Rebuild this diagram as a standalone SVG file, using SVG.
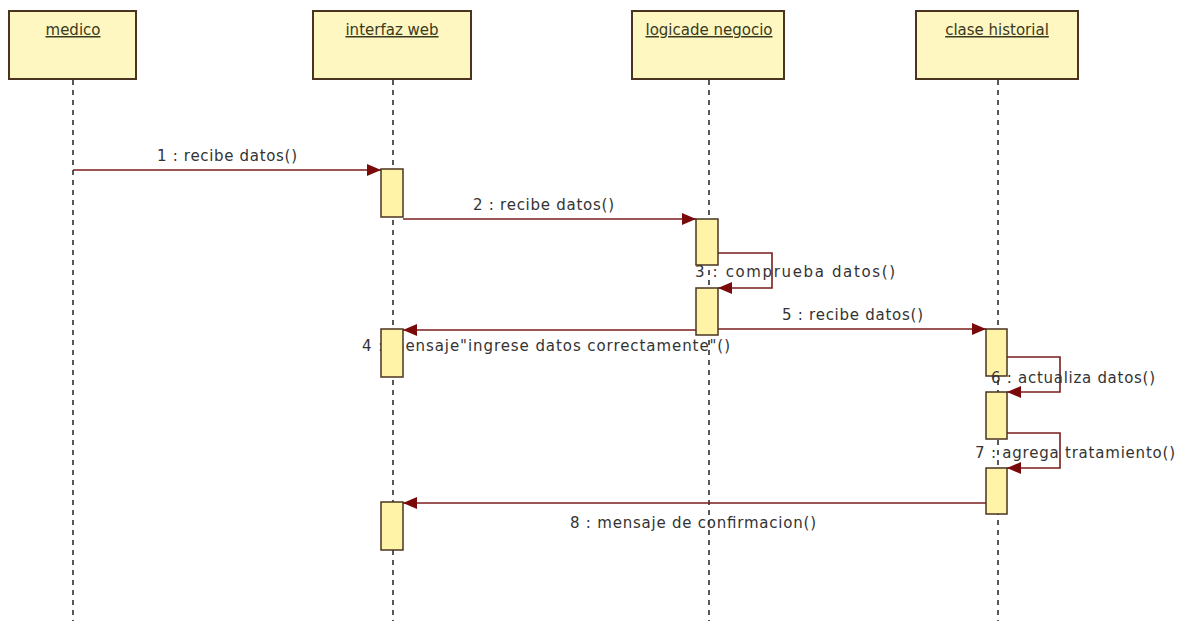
<svg xmlns="http://www.w3.org/2000/svg" width="1189" height="621" viewBox="0 0 1189 621">
<style>
.box{fill:#fff7c2;stroke:#4a3420;stroke-width:2}
.hdr{font-family:"DejaVu Sans","Liberation Sans",sans-serif;font-size:15px;fill:#3a3a20;text-anchor:middle;text-decoration:underline}
.life{stroke:#222;stroke-width:1.5;stroke-dasharray:5,5;fill:none}
.msg{stroke:#7a1c1c;stroke-width:1.6;fill:none}
.lbl{font-family:"DejaVu Sans","Liberation Sans",sans-serif;font-size:15px;fill:#333}
.act{fill:#fff3a8;stroke:#4a3420;stroke-width:1.5}
</style>
<defs>
<marker id="arr" viewBox="0 0 14 12" refX="14" refY="6" markerWidth="14" markerHeight="12" markerUnits="userSpaceOnUse" orient="auto">
<path d="M0,0 L14,6 L0,12 Z" fill="#7a0a0a"/>
</marker>
</defs>
<rect width="1189" height="621" fill="#fff"/>
<g id="medico">
<rect class="box" x="9" y="11" width="127" height="68"/>
<text class="hdr" x="73" y="35">medico</text>
<line class="life" x1="73" y1="80" x2="73" y2="621"/>
</g>
<g id="interfaz-web">
<rect class="box" x="313" y="11" width="158" height="68"/>
<text class="hdr" x="392" y="35">interfaz web</text>
<line class="life" x1="393" y1="80" x2="393" y2="621"/>
</g>
<g id="logica-negocio">
<rect class="box" x="632" y="11" width="152" height="68"/>
<text class="hdr" x="709" y="35">logicade negocio</text>
<line class="life" x1="709" y1="80" x2="709" y2="621"/>
</g>
<g id="clase-historial">
<rect class="box" x="916" y="11" width="162" height="68"/>
<text class="hdr" x="997" y="35">clase historial</text>
<line class="life" x1="998" y1="80" x2="998" y2="621"/>
</g>
<g id="connectors">
<text class="lbl" x="157" y="161" textLength="140">1 : recibe datos()</text>
<text class="lbl" x="473" y="210" textLength="141">2 : recibe datos()</text>
<text class="lbl" x="695" y="277" textLength="200">3 : comprueba datos()</text>
<text class="lbl" x="362" y="351" textLength="368">4 : mensaje"ingrese datos correctamente"()</text>
<text class="lbl" x="782" y="320" textLength="141">5 : recibe datos()</text>
<text class="lbl" x="975" y="458" textLength="200">7 : agrega tratamiento()</text>
<text class="lbl" x="570" y="528" textLength="246">8 : mensaje de confirmacion()</text>
<line class="msg" x1="73" y1="170" x2="381" y2="170" marker-end="url(#arr)"/>
<line class="msg" x1="403" y1="219" x2="696" y2="219" marker-end="url(#arr)"/>
<polyline class="msg" points="718,253 772,253 772,288 718,288" marker-end="url(#arr)"/>
<line class="msg" x1="696" y1="330" x2="403" y2="330" marker-end="url(#arr)"/>
<line class="msg" x1="718" y1="329" x2="986" y2="329" marker-end="url(#arr)"/>
<polyline class="msg" points="1007,357 1060,357 1060,392 1007,392" marker-end="url(#arr)"/>
<polyline class="msg" points="1007,433 1060,433 1060,468 1007,468" marker-end="url(#arr)"/>
<line class="msg" x1="986" y1="503" x2="403" y2="503" marker-end="url(#arr)"/>
</g>
<g id="activations">
<rect class="act" x="381" y="169" width="22" height="48"/>
<rect class="act" x="696" y="219" width="22" height="46"/>
<rect class="act" x="696" y="288" width="22" height="47"/>
<rect class="act" x="381" y="329" width="22" height="48"/>
<rect class="act" x="986" y="329" width="21" height="47"/>
<rect class="act" x="986" y="392" width="21" height="47"/>
<rect class="act" x="986" y="468" width="21" height="46"/>
<rect class="act" x="381" y="502" width="22" height="48"/>
</g>
<g id="connector-labels-top">
<text class="lbl" x="991" y="383" textLength="164">6 : actualiza datos()</text>
</g>
</svg>
